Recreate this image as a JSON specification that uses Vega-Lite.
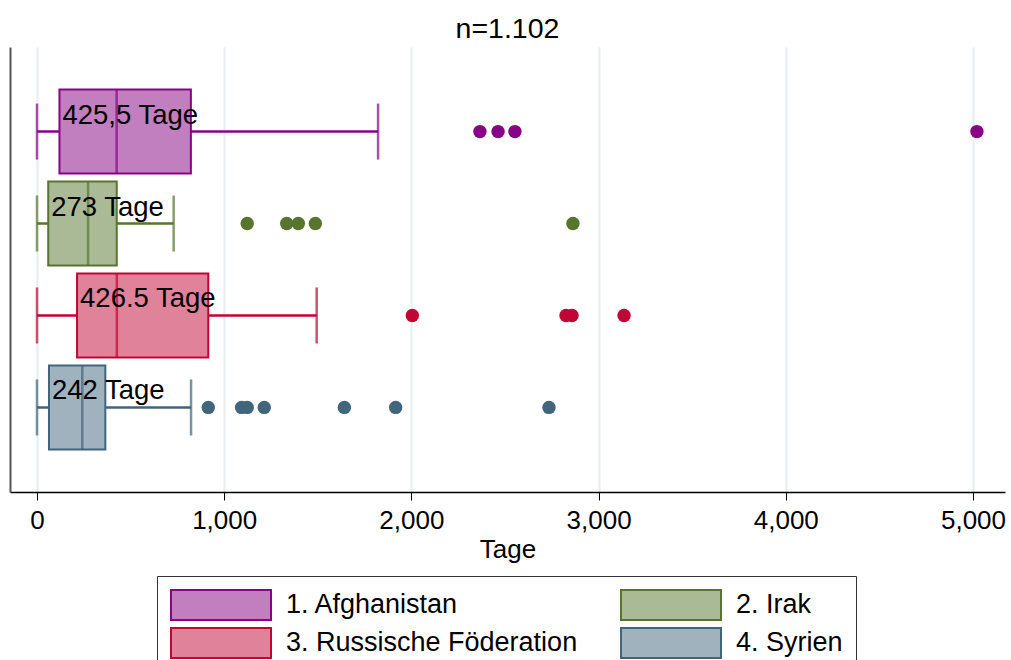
{
  "$schema": "https://vega.github.io/schema/vega-lite/v6.json",
  "autosize": {"type": "none"},
  "width": 995,
  "height": 445,
  "padding": {"left": 10, "top": 47, "right": 6, "bottom": 168},
  "background": "white",
  "config": {
    "font": "Liberation Sans",
    "view": {"stroke": null},
    "title": {"fontSize": 28.5, "fontWeight": "normal", "color": "black", "anchor": "middle", "offset": 4}
  },
  "title": "n=1.102",
  "datasets": {
    "stats": [
      {"country": "1. Afghanistan", "lo": 0, "q1": 120, "med": 425.5, "q3": 822, "hi": 1822, "label": "425,5 Tage"},
      {"country": "2. Irak", "lo": 0, "q1": 60, "med": 273, "q3": 426, "hi": 730, "label": "273 Tage"},
      {"country": "3. Russische Föderation", "lo": 0, "q1": 214, "med": 426.5, "q3": 915, "hi": 1494, "label": "426.5 Tage"},
      {"country": "4. Syrien", "lo": 0, "q1": 64, "med": 242, "q3": 365, "hi": 823, "label": "242 Tage"}
    ],
    "outliers": [
      {"country": "1. Afghanistan", "value": 2366},
      {"country": "1. Afghanistan", "value": 2463},
      {"country": "1. Afghanistan", "value": 2553},
      {"country": "1. Afghanistan", "value": 5021},
      {"country": "2. Irak", "value": 1123},
      {"country": "2. Irak", "value": 1334},
      {"country": "2. Irak", "value": 1396},
      {"country": "2. Irak", "value": 1487},
      {"country": "2. Irak", "value": 2863},
      {"country": "3. Russische Föderation", "value": 2005},
      {"country": "3. Russische Föderation", "value": 2826},
      {"country": "3. Russische Föderation", "value": 2858},
      {"country": "3. Russische Föderation", "value": 3136},
      {"country": "4. Syrien", "value": 915},
      {"country": "4. Syrien", "value": 1093},
      {"country": "4. Syrien", "value": 1123},
      {"country": "4. Syrien", "value": 1214},
      {"country": "4. Syrien", "value": 1642},
      {"country": "4. Syrien", "value": 1916},
      {"country": "4. Syrien", "value": 2735}
    ]
  },
  "encoding": {
    "y": {
      "field": "country", "type": "nominal",
      "sort": ["1. Afghanistan", "2. Irak", "3. Russische Föderation", "4. Syrien"],
      "scale": {"type": "band", "paddingInner": 0, "paddingOuter": 0.42},
      "axis": {"title": null, "labels": false, "ticks": false, "grid": false, "domain": true, "domainColor": "#555555", "domainWidth": 2}
    }
  },
  "layer": [
    {
      "data": {"name": "stats"},
      "mark": {"type": "rule", "strokeWidth": 2.5},
      "encoding": {
        "x": {
          "field": "lo", "type": "quantitative", "title": "Tage",
          "scale": {"domain": [-144.2, 5171], "nice": false, "zero": false},
          "axis": {
            "values": [0, 1000, 2000, 3000, 4000, 5000], "format": ",d",
            "labelFontSize": 26, "labelColor": "black", "labelFlush": false, "labelOverlap": false, "labelPadding": 7,
            "tickColor": "black", "tickSize": 8, "tickWidth": 1,
            "domainColor": "black", "domainWidth": 1.5,
            "grid": true, "gridColor": "#E6EEF0", "gridWidth": 2,
            "titleFontSize": 26, "titleFontWeight": "normal", "titleColor": "black", "titlePadding": 3
          }
        },
        "x2": {"field": "hi"},
        "color": {"field": "country", "type": "nominal", "legend": null,
          "scale": {"range": ["#870487", "#57752D", "#C10535", "#41657D"]}}
      }
    },
    {
      "data": {"name": "stats"},
      "mark": {"type": "tick", "thickness": 2.5, "size": 56},
      "encoding": {
        "x": {"field": "lo", "type": "quantitative"},
        "color": {"field": "country", "type": "nominal", "legend": null}
      }
    },
    {
      "data": {"name": "stats"},
      "mark": {"type": "tick", "thickness": 2.5, "size": 56},
      "encoding": {
        "x": {"field": "hi", "type": "quantitative"},
        "color": {"field": "country", "type": "nominal", "legend": null}
      }
    },
    {
      "data": {"name": "stats"},
      "mark": {"type": "bar", "size": 84, "strokeWidth": 2},
      "encoding": {
        "x": {"field": "q1", "type": "quantitative"},
        "x2": {"field": "q3"},
        "fill": {
          "field": "country", "type": "nominal",
          "scale": {"range": ["#C27FBF", "#ABBA96", "#E0829A", "#A0B2BE"]},
          "legend": {
            "title": null, "orient": "none", "legendX": 147, "legendY": 529,
            "columns": 2, "direction": "horizontal",
            "symbolType": "M-3.333,-1H3.333V1H-3.333Z", "symbolSize": 900, "symbolStrokeWidth": 2, "symbolOffset": 35,
            "labelFontSize": 27, "labelColor": "black", "labelOffset": 49, "labelLimit": 400,
            "columnPadding": 39, "rowPadding": 0, "padding": 13,
            "strokeColor": "#333333", "fillColor": "white"
          }
        },
        "stroke": {
          "field": "country", "type": "nominal",
          "scale": {"range": ["#870487", "#57752D", "#C10535", "#41657D"]},
          "legend": {
            "title": null, "orient": "none", "legendX": 147, "legendY": 529,
            "columns": 2, "direction": "horizontal",
            "symbolType": "M-3.333,-1H3.333V1H-3.333Z", "symbolSize": 900, "symbolStrokeWidth": 2, "symbolOffset": 35,
            "labelFontSize": 27, "labelColor": "black", "labelOffset": 49, "labelLimit": 400,
            "columnPadding": 39, "rowPadding": 0, "padding": 13,
            "strokeColor": "#333333", "fillColor": "white"
          }
        }
      }
    },
    {
      "data": {"name": "stats"},
      "mark": {"type": "tick", "thickness": 2.5, "size": 84},
      "encoding": {
        "x": {"field": "med", "type": "quantitative"},
        "color": {"field": "country", "type": "nominal", "legend": null}
      }
    },
    {
      "data": {"name": "outliers"},
      "mark": {"type": "point", "filled": true, "opacity": 1, "size": 180, "shape": "circle"},
      "encoding": {
        "x": {"field": "value", "type": "quantitative"},
        "color": {"field": "country", "type": "nominal", "legend": null}
      }
    },
    {
      "data": {"name": "stats"},
      "mark": {"type": "text", "align": "left", "baseline": "middle", "dx": 3, "dy": -16, "fontSize": 27.5, "color": "black"},
      "encoding": {
        "x": {"field": "q1", "type": "quantitative"},
        "text": {"field": "label"}
      }
    }
  ]
}
